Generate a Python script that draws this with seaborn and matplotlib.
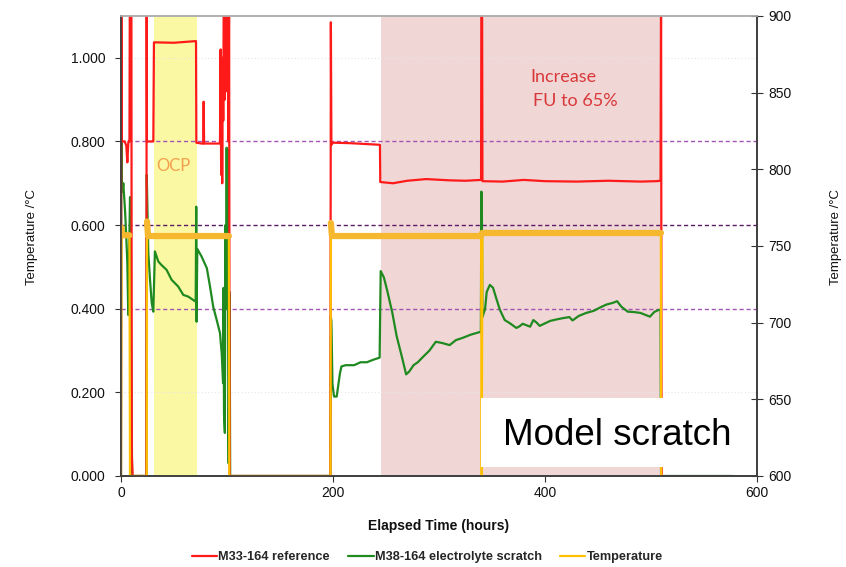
import numpy as np
import pandas as pd
import seaborn as sns
import matplotlib.pyplot as plt
from matplotlib.lines import Line2D
from matplotlib.patches import Rectangle

# M33-164 reference (left axis)
ref_hours = [0, 0.3, 0.8, 3.5, 5, 6, 7, 8, 8.4, 9.8, 10.2, 11, 24, 24.2, 24.5, 30.5, 31.1, 50, 70.8,
             71.1, 76, 77.6, 78, 78.4, 93.4, 94, 94.5, 95, 95.5, 96, 96.5, 97, 98, 98.5, 99, 99.5,
             100, 101, 101.5, 102, 102.5, 197.5, 198, 198.5, 200, 215, 230, 244.3, 244.6, 256.6,
             270, 288, 310, 325, 339.7, 340, 340.6, 341, 360, 380, 400, 430, 460, 490, 505, 509,
             509.5, 510]
ref_value = [0, 1.2, 0.80, 0.80, 0.79, 0.75, 0.80, 0.80, 1.2, 1.2, 0.05, 0, 0, 1.2, 0.80, 0.80,
             1.037, 1.036, 1.040, 0.797, 0.795, 0.795, 0.895, 0.795, 0.795, 1.02, 0.72, 0.98, 0.70,
             1.0, 0.85, 1.2, 0.9, 1.1, 0.95, 1.2, 0.92, 1.2, 0.8, 1.2, 0, 0, 1.085, 0.792, 0.797,
             0.796, 0.794, 0.792, 0.703, 0.700, 0.706, 0.710, 0.707, 0.706, 0.708, 1.2, 1.2, 0.705,
             0.704, 0.708, 0.705, 0.704, 0.706, 0.704, 0.705, 0.706, 1.2, 0]

# M38-164 electrolyte scratch (left axis)
scr_hours = [0, 0.3, 0.8, 1.5, 2.2, 3.8, 4.7, 6, 6.9, 8.5, 10, 10.5, 24, 24.3, 25.8, 27.4, 29,
             30.5, 32, 35.2, 38, 43, 47.8, 54, 58.8, 63.5, 68, 70.5, 71, 71.3, 72, 76, 81, 84, 87,
             90.3, 93.4, 95, 96.3, 96.8, 97.2, 98, 98.5, 99, 99.7, 100.2, 100.8, 101.3, 101.6,
             102.5, 103, 197.5, 198, 198.5, 199.5, 201, 203.5, 206.6, 208, 212, 220, 226, 232,
             238, 244, 245, 248, 251, 256, 260, 265, 269, 272, 276, 280, 285, 291, 297, 303, 310,
             316, 322, 330, 339.5, 340, 340.5, 341, 343.5, 345, 348, 351, 354, 357.5, 362, 367,
             373, 376, 379, 383, 386, 389, 392, 395, 400, 405, 412, 418, 423, 426, 432, 439, 446,
             452, 458, 464, 468, 472, 478, 484, 490, 495, 499, 503, 507, 509, 509.5, 577]
scr_value = [0, 0.88, 0.71, 0.68, 0.70, 0.636, 0.589, 0.51, 0.385, 0.667, 0.19, 0, 0, 0.72,
             0.533, 0.469, 0.414, 0.393, 0.537, 0.513, 0.505, 0.493, 0.469, 0.453, 0.433, 0.429,
             0.421, 0.417, 0.644, 0.369, 0.543, 0.525, 0.497, 0.453, 0.405, 0.373, 0.342, 0.294,
             0.222, 0.45, 0.15, 0.103, 0.6, 0.4, 0.785, 0.55, 0.78, 0.1, 0.03, 0.44, 0, 0, 0.38,
             0.37, 0.22, 0.19, 0.19, 0.246, 0.262, 0.265, 0.265, 0.272, 0.272, 0.278, 0.283, 0.49,
             0.475, 0.445, 0.39, 0.335, 0.285, 0.243, 0.25, 0.265, 0.272, 0.285, 0.30, 0.321,
             0.318, 0.313, 0.325, 0.33, 0.338, 0.345, 0.68, 0.61, 0.38, 0.40, 0.44, 0.457, 0.45,
             0.425, 0.397, 0.373, 0.365, 0.354, 0.358, 0.364, 0.36, 0.357, 0.373, 0.367, 0.359,
             0.365, 0.371, 0.375, 0.378, 0.38, 0.372, 0.383, 0.39, 0.395, 0.403, 0.41, 0.414,
             0.418, 0.405, 0.393, 0.392, 0.39, 0.385, 0.381, 0.392, 0.397, 0.397, 0, 0]

# Temperature (right axis, deg C)
temp_hours = [0, 0.5, 1, 8, 8.5, 24.3, 24.6, 25.5, 101.8, 102.2, 197.6, 198, 199, 339.7, 340.3,
              341, 509.3, 509.6]
temp_c = [600, 762, 757, 757, 600, 600, 766, 756.5, 756.5, 600, 600, 765, 756.5, 756.5, 600,
          758.5, 758.5, 600]

ocp_span = (31.0, 71.4)
fu_span = (245.3, 509.0)
left_ticks = [0.0, 0.2, 0.4, 0.6, 0.8, 1.0]
right_ticks = [600, 650, 700, 750, 800, 850, 900]
x_ticks = [0, 200, 400, 600]

sns.set_theme(style="ticks")
plt.rcParams['font.family'] = ['Liberation Sans', 'DejaVu Sans']

ref = pd.DataFrame({'hours': ref_hours, 'value': ref_value})
scr = pd.DataFrame({'hours': scr_hours, 'value': scr_value})
temp = pd.DataFrame({'hours': temp_hours, 'temp': temp_c})

# plateau pieces of the temperature trace, drawn as a thick noisy band
seg, segs = 0, []
for t in temp_c:
    if t < 700:
        seg += 1
    segs.append(seg)
temp['seg'] = segs
band = temp[temp['temp'] >= 700]

fig = plt.figure(figsize=(8.46, 5.67), dpi=100)
ax1 = fig.add_axes([0.143, 0.1605, 0.7518, 0.8113])
ax2 = ax1.twinx()

ax1.axvspan(*ocp_span, color='#fbf8a4', zorder=0, lw=0)
ax1.axvspan(*fu_span, color='#f1d6d6', zorder=0, lw=0)
for v in (0.2, 1.0):
    ax1.axhline(v, color='#e6e6e6', ls=(0, (1, 2)), lw=0.8, zorder=0.5)
ax1.axhline(0.8, color='#a455b4', ls=(0, (3, 2)), lw=1.0, zorder=1)
ax1.axhline(0.4, color='#a455b4', ls=(0, (3, 2)), lw=1.0, zorder=1)
ax1.axhline(0.6, color='#5a1a66', ls=(0, (3, 2)), lw=1.0, zorder=1)

sns.lineplot(data=scr, x='hours', y='value', sort=False, estimator=None, ax=ax1,
             color='#1f8a1f', lw=1.6, zorder=2)
sns.lineplot(data=ref, x='hours', y='value', sort=False, estimator=None, ax=ax1,
             color='#ff1a1a', lw=1.6, zorder=3)
sns.lineplot(data=temp, x='hours', y='temp', sort=False, estimator=None, ax=ax2,
             color='#ffc000', lw=1.6, zorder=2)
sns.lineplot(data=band, x='hours', y='temp', units='seg', sort=False, estimator=None, ax=ax2,
             color='#f5b82e', lw=4.5, zorder=2)

ax1.set_xlim(0, 600)
ax1.set_ylim(0, 1.1)
ax2.set_ylim(600, 900)
ax1.set_xticks(x_ticks)
ax1.set_yticks(left_ticks)
ax1.set_yticklabels([f'{v:.3f}' for v in left_ticks])
ax2.set_yticks(right_ticks)

ax1.tick_params(axis='x', direction='out', length=4, width=0.8, labelsize=10,
                colors='#333333', labelcolor='#111111', pad=3)
ax1.tick_params(axis='y', direction='out', length=4, width=0.8, labelsize=10,
                colors='#333333', labelcolor='#111111', pad=7)
ax2.tick_params(axis='y', direction='inout', length=8, width=0.8, labelsize=10,
                colors='#333333', labelcolor='#111111', pad=4)
for ax in (ax1, ax2):
    ax.spines['left'].set_color('#404040')
    ax.spines['bottom'].set_color('#404040')
    ax.spines['right'].set_color('#404040')
    ax.spines['top'].set_color('#b0b0b0')
    ax.spines['top'].set_visible(True)
    ax.spines['right'].set_visible(True)

ax1.set_xlabel('Elapsed Time (hours)', fontsize=10, fontweight='bold', color='#111111')
ax1.xaxis.set_label_coords(0.5, -0.093)
ax1.set_ylabel('Temperature /°C', fontsize=9.5, color='#111111')
ax1.yaxis.set_label_coords(-0.131, 0.52)
ax2.set_ylabel('Temperature /°C', fontsize=9.5, color='#111111')
ax2.yaxis.set_label_coords(1.115, 0.52)

ax1.text(49, 0.742, 'OCP', color='#f2a04c', fontsize=12, family=['Lato', 'DejaVu Sans'],
         ha='center', va='center', zorder=4)
ax1.text(385.8, 0.955, 'Increase', color='#d9383a', fontsize=13, family=['Lato', 'DejaVu Sans'],
         ha='left', va='center', zorder=4)
ax1.text(388.7, 0.897, 'FU to 65%', color='#d9383a', fontsize=13, family=['Lato', 'DejaVu Sans'],
         ha='left', va='center', zorder=4)

ax2.add_patch(Rectangle((339.6, 0.0215), 245, 0.165, transform=ax1.transData,
                        facecolor='white', edgecolor='none', zorder=10))
ax2.text(467.9, 0.098, 'Model scratch', transform=ax1.transData, fontsize=26.5,
         color='black', ha='center', va='center', zorder=11)

handles = [Line2D([], [], color='#ff1a1a', lw=1.6),
           Line2D([], [], color='#1f8a1f', lw=1.6),
           Line2D([], [], color='#ffc000', lw=1.6)]
labels = ['M33-164 reference', 'M38-164 electrolyte scratch', 'Temperature']
fig.legend(handles, labels, loc='center', bbox_to_anchor=(0.505, 0.0176), ncol=3,
           frameon=False, handlelength=2.0, handletextpad=0.1, columnspacing=1.4,
           prop={'size': 9.2, 'weight': 'bold'})

fig.savefig('out.png', dpi=100)
